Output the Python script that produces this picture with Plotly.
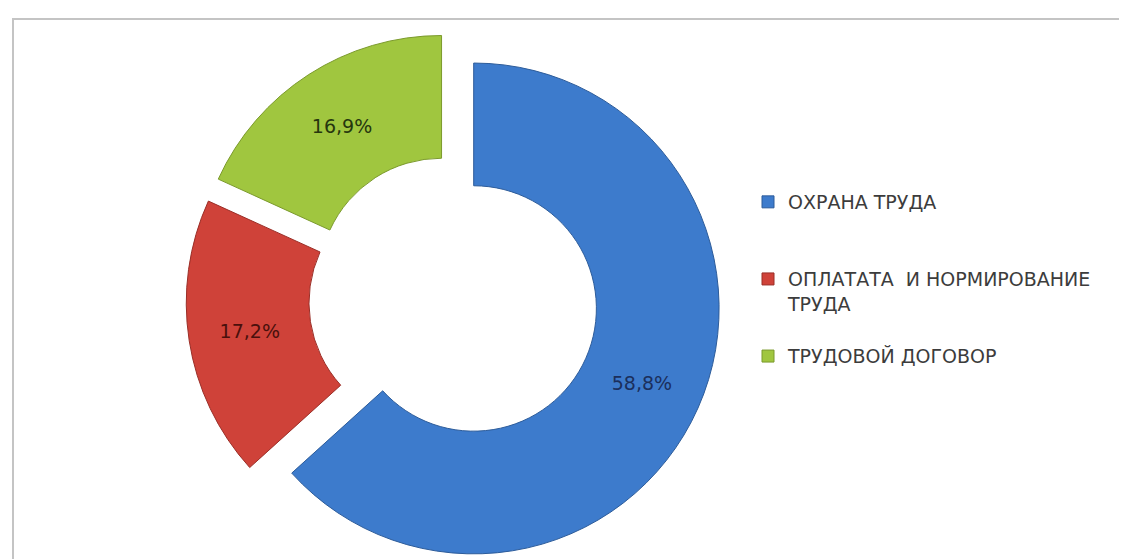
import plotly.graph_objects as go

# ---- data ----
categories = ["ОХРАНА ТРУДА", "ОПЛАТАТА  И НОРМИРОВАНИЕ<br>ТРУДА", "ТРУДОВОЙ ДОГОВОР"]
values = [58.8, 17.2, 16.9]
value_labels = ["58,8%", "17,2%", "16,9%"]

# ---- styling ----
slice_colors = ["#3d7bcc", "#cf4239", "#a0c63f"]
edge_colors = ["#2d5c9a", "#9a2e27", "#7b9a2c"]
label_colors = ["#1b2f5c", "#4a100c", "#26360e"]
legend_padding = ["<br> <br> ", "<br> ", ""]
FONT = "DejaVu Sans, Verdana, sans-serif"

W, H = 1127, 559
legend_names = [c + p for c, p in zip(categories, legend_padding)]

fig = go.Figure()
fig.add_trace(go.Pie(
    labels=legend_names,
    values=values,
    text=value_labels,
    texttemplate="%{text}",
    textposition="inside",
    insidetextorientation="horizontal",
    textfont=dict(family=FONT, size=19, color=label_colors),
    hole=0.50,
    pull=[0.09, 0.09, 0.09],
    sort=False,
    direction="clockwise",
    rotation=0,
    marker=dict(colors=slice_colors, line=dict(color=edge_colors, width=1)),
    hoverinfo="label+text",
    domain=dict(x=[178 / W, 713 / W], y=[0.0, 1 - 24 / H]),
))

fig.update_layout(
    width=W,
    height=H,
    margin=dict(l=0, r=0, t=0, b=0),
    paper_bgcolor="white",
    plot_bgcolor="white",
    showlegend=True,
    legend=dict(
        x=740 / W,
        y=1 - 175 / H,
        xanchor="left",
        yanchor="top",
        valign="top",
        itemwidth=30,
        font=dict(family=FONT, size=19, color="#3c3c3c"),
        bgcolor="rgba(0,0,0,0)",
    ),
    shapes=[dict(
        type="rect", xref="paper", yref="paper",
        x0=5 / W, x1=1.02, y0=-0.02, y1=1 - 11 / H,
        line=dict(color="#c4c4c4", width=2),
        fillcolor="rgba(0,0,0,0)",
        layer="below",
    )],
)

fig.write_html("out.html")
